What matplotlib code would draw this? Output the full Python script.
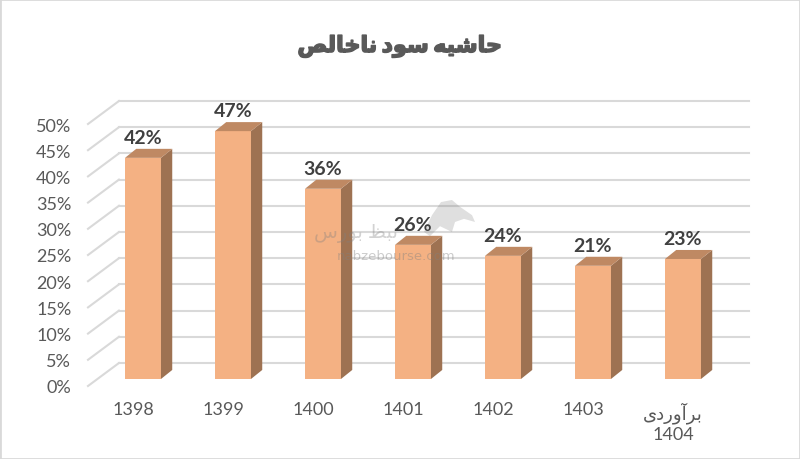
import matplotlib
matplotlib.use("Agg")
import matplotlib.pyplot as plt
import matplotlib.patheffects as pe
from matplotlib.patches import Polygon, Rectangle

plt.rcParams["font.family"] = ["Lato", "DejaVu Sans"]

# matplotlib does no arabic shaping, so the strings use presentation forms
# in visual order (written logically, then reversed)
def rtl(s):
    return " ".join(w[::-1] for w in s.split(" ")[::-1])

title_text = rtl("\ufea3\ufe8e\ufeb7\ufbff\ufeea \ufeb3\ufeee\ufea9 \ufee7\ufe8e\ufea7\ufe8e\ufedf\ufeba").replace(" ", "\u2009")
estimate_word = rtl("\ufe91\ufeae\ufe81\ufeed\ufead\ufea9\ufbfc")
wm_fa = rtl("\ufee7\ufe92\ufec6 \ufe91\ufeee\ufead\ufeb1")

# data
years = ["1398", "1399", "1400", "1401", "1402", "1403", estimate_word + "\n1404"]
margin = [42.2, 47.3, 36.3, 25.6, 23.5, 21.6, 22.9]
margin_labels = ["42%", "47%", "36%", "26%", "24%", "21%", "23%"]
y_ticks = [0, 5, 10, 15, 20, 25, 30, 35, 40, 45, 50]
bull_x = [3.233, 3.322, 3.422, 3.544, 3.633, 3.767, 3.8, 3.678, 3.578, 3.544, 3.411, 3.3]
bull_y = [29.4, 32.6, 35.1, 35.5, 34.2, 32.6, 31.3, 31.9, 31.3, 29.4, 30.5, 28.6]

fig = plt.figure(figsize=(8, 4.6), dpi=100)
ax = fig.add_axes([88 / 800, 73 / 460, 630 / 800, 262 / 460])
ax.set_xlim(-0.5, 6.5)
ax.set_ylim(0, 50)

# wall depth and bar depth, in data units
wall_dx, wall_dy = 0.344, 4.39
bar_dx, bar_dy = 0.125, 1.72
base = 1.34
left, width = -0.089, 0.4

grid_c = "#d9d9d9"
for t in y_ticks:
    ax.plot([-0.5, -0.5 + wall_dx], [t, t + wall_dy], color=grid_c, lw=1.5, clip_on=False, zorder=1)
    ax.plot([-0.5 + wall_dx, 6.5 + wall_dx], [t + wall_dy, t + wall_dy], color=grid_c, lw=1.5, clip_on=False, zorder=1)

xs = list(range(len(years)))
for x, v, lab in zip(xs, margin, margin_labels):
    x0 = x + left
    top = base + v
    ax.bar(x0, v, width=width, bottom=base, align="edge", color="#f4b183", zorder=3, clip_on=False)
    ax.add_patch(Polygon([(x0 + width, base), (x0 + width + bar_dx, base + bar_dy),
                          (x0 + width + bar_dx, top + bar_dy), (x0 + width, top)],
                         closed=True, color="#9e7252", lw=0, zorder=3, clip_on=False))
    ax.add_patch(Polygon([(x0, top), (x0 + bar_dx, top + bar_dy),
                          (x0 + width + bar_dx, top + bar_dy), (x0 + width, top)],
                         closed=True, color="#bf8963", lw=0, zorder=3, clip_on=False))
    ax.text(x0 + 0.2, top + 2.25, lab, ha="center", va="bottom", fontsize=14,
            fontweight="bold", color="#404040", zorder=5, clip_on=False)

ax.set_xticks(xs, years)
ax.set_yticks(y_ticks, [f"{t}%" for t in y_ticks])
ax.tick_params(axis="both", length=0, labelsize=13, labelcolor="#595959")
ax.tick_params(axis="x", pad=11)
ax.tick_params(axis="y", pad=12)
for s in ax.spines.values():
    s.set_visible(False)

# watermark
ax.add_patch(Polygon(list(zip(bull_x, bull_y)), closed=True, color="#808080", alpha=0.25, lw=0, zorder=2, clip_on=False))
ax.text(2.48, 29.2, wm_fa, ha="center", va="center", fontsize=14, color="#808080", alpha=0.35, zorder=4)
ax.text(2.92, 25, "nabzebourse.com", ha="center", va="center", fontsize=9.5, color="#808080",
        alpha=0.4, zorder=4, fontfamily="DejaVu Sans")

t = fig.text(0.5, 0.897, title_text, ha="center", va="center", fontsize=16, fontweight="bold",
             color="#595959", family=["DejaVu Sans"])
t.set_path_effects([pe.withStroke(linewidth=1.1, foreground="#595959")])

# thin outer frame
fig.add_artist(Rectangle((0, 0), 1, 1, transform=fig.transFigure, fill=False, ec="#d9d9d9", lw=2))

fig.savefig("out.png", dpi=100)
